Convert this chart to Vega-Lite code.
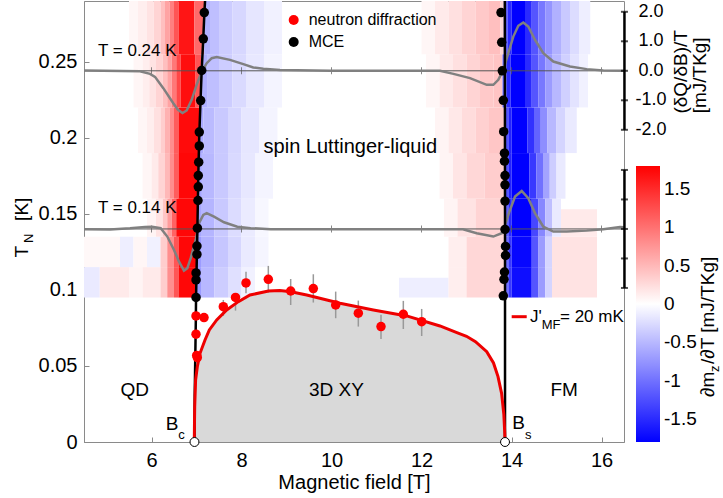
{
"$schema":"https://vega.github.io/schema/vega-lite/v6.json",
"width":540,"height":441,
"autosize":{"type":"none"},
"padding":{"left":84,"top":1,"right":99,"bottom":56},
"background":"white",
"config":{
 "font":"Liberation Sans",
 "view":{"stroke":"#8a8a8a","strokeWidth":1},
 "axis":{"grid":false,"domainColor":"#8a8a8a","tickColor":"#8a8a8a","labelColor":"black","labelFontSize":20,"titleFontSize":20,"titleFontWeight":"normal","titleColor":"black","tickSize":-5,"domainWidth":1}
},
"datasets":{
"heat":[
{"b1":4.5,"b2":4.85,"t1":0.095,"t2":0.115,"v":-0.15},
{"b1":4.85,"b2":5.5,"t1":0.095,"t2":0.115,"v":0.15},
{"b1":5.5,"b2":5.8,"t1":0.095,"t2":0.115,"v":0.08},
{"b1":5.8,"b2":6.2,"t1":0.095,"t2":0.115,"v":0.15},
{"b1":6.2,"b2":6.35,"t1":0.095,"t2":0.115,"v":0.35},
{"b1":6.35,"b2":6.5,"t1":0.095,"t2":0.115,"v":0.8},
{"b1":6.5,"b2":6.6,"t1":0.095,"t2":0.115,"v":1.2},
{"b1":6.6,"b2":6.99,"t1":0.095,"t2":0.115,"v":1.75},
{"b1":6.99,"b2":7.1,"t1":0.095,"t2":0.115,"v":-0.7},
{"b1":7.1,"b2":7.4,"t1":0.095,"t2":0.115,"v":-0.5},
{"b1":7.4,"b2":7.7,"t1":0.095,"t2":0.115,"v":-0.35},
{"b1":7.7,"b2":8.0,"t1":0.095,"t2":0.115,"v":-0.22},
{"b1":8.0,"b2":8.3,"t1":0.095,"t2":0.115,"v":-0.1},
{"b1":11.5,"b2":12.6,"t1":0.095,"t2":0.108,"v":-0.12},
{"b1":12.6,"b2":13.0,"t1":0.095,"t2":0.115,"v":0.12},
{"b1":13.0,"b2":13.84,"t1":0.095,"t2":0.115,"v":0.28},
{"b1":13.84,"b2":13.93,"t1":0.095,"t2":0.115,"v":-1.0},
{"b1":13.93,"b2":14.0,"t1":0.095,"t2":0.115,"v":-1.4},
{"b1":14.0,"b2":14.45,"t1":0.095,"t2":0.115,"v":-1.7},
{"b1":14.45,"b2":14.6,"t1":0.095,"t2":0.115,"v":-1.2},
{"b1":14.6,"b2":14.75,"t1":0.095,"t2":0.115,"v":-0.7},
{"b1":14.75,"b2":14.9,"t1":0.095,"t2":0.115,"v":-0.3},
{"b1":14.9,"b2":15.9,"t1":0.095,"t2":0.115,"v":0.2},
{"b1":4.5,"b2":5.3,"t1":0.115,"t2":0.135,"v":0.05},
{"b1":5.3,"b2":5.6,"t1":0.115,"t2":0.135,"v":-0.12},
{"b1":5.6,"b2":5.9,"t1":0.115,"t2":0.135,"v":0.06},
{"b1":5.9,"b2":6.2,"t1":0.115,"t2":0.135,"v":-0.1},
{"b1":6.2,"b2":6.35,"t1":0.115,"t2":0.135,"v":0.35},
{"b1":6.35,"b2":6.5,"t1":0.115,"t2":0.135,"v":0.8},
{"b1":6.5,"b2":6.6,"t1":0.115,"t2":0.135,"v":1.2},
{"b1":6.6,"b2":6.99,"t1":0.115,"t2":0.135,"v":1.75},
{"b1":6.99,"b2":7.1,"t1":0.115,"t2":0.135,"v":-0.7},
{"b1":7.1,"b2":7.4,"t1":0.115,"t2":0.135,"v":-0.55},
{"b1":7.4,"b2":7.7,"t1":0.115,"t2":0.135,"v":-0.4},
{"b1":7.7,"b2":8.0,"t1":0.115,"t2":0.135,"v":-0.28},
{"b1":8.0,"b2":8.3,"t1":0.115,"t2":0.135,"v":-0.15},
{"b1":8.3,"b2":8.6,"t1":0.115,"t2":0.135,"v":-0.07},
{"b1":12.6,"b2":13.0,"t1":0.115,"t2":0.135,"v":0.12},
{"b1":13.0,"b2":13.84,"t1":0.115,"t2":0.135,"v":0.28},
{"b1":13.84,"b2":13.93,"t1":0.115,"t2":0.135,"v":-1.0},
{"b1":13.93,"b2":14.0,"t1":0.115,"t2":0.135,"v":-1.4},
{"b1":14.0,"b2":14.45,"t1":0.115,"t2":0.135,"v":-1.75},
{"b1":14.45,"b2":14.6,"t1":0.115,"t2":0.135,"v":-1.2},
{"b1":14.6,"b2":14.75,"t1":0.115,"t2":0.135,"v":-0.7},
{"b1":14.75,"b2":14.9,"t1":0.115,"t2":0.135,"v":-0.3},
{"b1":14.9,"b2":15.9,"t1":0.115,"t2":0.135,"v":0.2},
{"b1":5.9,"b2":6.1,"t1":0.135,"t2":0.16,"v":0.08},
{"b1":6.1,"b2":6.25,"t1":0.135,"t2":0.16,"v":0.2},
{"b1":6.25,"b2":6.35,"t1":0.135,"t2":0.16,"v":0.4},
{"b1":6.35,"b2":6.45,"t1":0.135,"t2":0.16,"v":0.7},
{"b1":6.45,"b2":6.55,"t1":0.135,"t2":0.16,"v":1.1},
{"b1":6.55,"b2":7.02,"t1":0.135,"t2":0.16,"v":1.75},
{"b1":7.02,"b2":7.1,"t1":0.135,"t2":0.16,"v":-0.62},
{"b1":7.1,"b2":7.4,"t1":0.135,"t2":0.16,"v":-0.52},
{"b1":7.4,"b2":7.7,"t1":0.135,"t2":0.16,"v":-0.38},
{"b1":7.7,"b2":8.0,"t1":0.135,"t2":0.16,"v":-0.25},
{"b1":8.0,"b2":8.3,"t1":0.135,"t2":0.16,"v":-0.14},
{"b1":8.3,"b2":8.6,"t1":0.135,"t2":0.16,"v":-0.06},
{"b1":12.5,"b2":12.8,"t1":0.135,"t2":0.16,"v":0.08},
{"b1":12.8,"b2":13.2,"t1":0.135,"t2":0.16,"v":0.2},
{"b1":13.2,"b2":13.84,"t1":0.135,"t2":0.16,"v":0.3},
{"b1":13.84,"b2":13.93,"t1":0.135,"t2":0.16,"v":-1.1},
{"b1":13.93,"b2":14.0,"t1":0.135,"t2":0.16,"v":-1.5},
{"b1":14.0,"b2":14.45,"t1":0.135,"t2":0.16,"v":-1.8},
{"b1":14.45,"b2":14.6,"t1":0.135,"t2":0.16,"v":-1.3},
{"b1":14.6,"b2":14.75,"t1":0.135,"t2":0.16,"v":-0.85},
{"b1":14.75,"b2":14.9,"t1":0.135,"t2":0.16,"v":-0.45},
{"b1":14.9,"b2":15.1,"t1":0.135,"t2":0.16,"v":-0.15},
{"b1":15.1,"b2":15.9,"t1":0.135,"t2":0.153,"v":0.15},
{"b1":5.8,"b2":6.0,"t1":0.16,"t2":0.19,"v":0.06},
{"b1":6.0,"b2":6.15,"t1":0.16,"t2":0.19,"v":0.15},
{"b1":6.15,"b2":6.3,"t1":0.16,"t2":0.19,"v":0.3},
{"b1":6.3,"b2":6.4,"t1":0.16,"t2":0.19,"v":0.5},
{"b1":6.4,"b2":6.5,"t1":0.16,"t2":0.19,"v":0.8},
{"b1":6.5,"b2":6.6,"t1":0.16,"t2":0.19,"v":1.15},
{"b1":6.6,"b2":7.04,"t1":0.16,"t2":0.19,"v":1.75},
{"b1":7.04,"b2":7.12,"t1":0.16,"t2":0.19,"v":-0.62},
{"b1":7.12,"b2":7.4,"t1":0.16,"t2":0.19,"v":-0.5},
{"b1":7.4,"b2":7.7,"t1":0.16,"t2":0.19,"v":-0.38},
{"b1":7.7,"b2":8.0,"t1":0.16,"t2":0.19,"v":-0.27},
{"b1":8.0,"b2":8.3,"t1":0.16,"t2":0.19,"v":-0.17},
{"b1":8.3,"b2":8.7,"t1":0.16,"t2":0.19,"v":-0.08},
{"b1":12.4,"b2":12.7,"t1":0.16,"t2":0.19,"v":0.08},
{"b1":12.7,"b2":13.0,"t1":0.16,"t2":0.19,"v":0.18},
{"b1":13.0,"b2":13.4,"t1":0.16,"t2":0.19,"v":0.28},
{"b1":13.4,"b2":13.84,"t1":0.16,"t2":0.19,"v":0.35},
{"b1":13.84,"b2":13.93,"t1":0.16,"t2":0.19,"v":-1.2},
{"b1":13.93,"b2":14.0,"t1":0.16,"t2":0.19,"v":-1.55},
{"b1":14.0,"b2":14.4,"t1":0.16,"t2":0.19,"v":-1.8},
{"b1":14.4,"b2":14.55,"t1":0.16,"t2":0.19,"v":-1.4},
{"b1":14.55,"b2":14.7,"t1":0.16,"t2":0.19,"v":-1.0},
{"b1":14.7,"b2":14.85,"t1":0.16,"t2":0.19,"v":-0.65},
{"b1":14.85,"b2":15.0,"t1":0.16,"t2":0.19,"v":-0.35},
{"b1":15.0,"b2":15.2,"t1":0.16,"t2":0.19,"v":-0.15},
{"b1":5.7,"b2":5.9,"t1":0.19,"t2":0.22,"v":0.06},
{"b1":5.9,"b2":6.05,"t1":0.19,"t2":0.22,"v":0.12},
{"b1":6.05,"b2":6.2,"t1":0.19,"t2":0.22,"v":0.22},
{"b1":6.2,"b2":6.3,"t1":0.19,"t2":0.22,"v":0.35},
{"b1":6.3,"b2":6.4,"t1":0.19,"t2":0.22,"v":0.55},
{"b1":6.4,"b2":6.5,"t1":0.19,"t2":0.22,"v":0.8},
{"b1":6.5,"b2":6.6,"t1":0.19,"t2":0.22,"v":1.15},
{"b1":6.6,"b2":7.06,"t1":0.19,"t2":0.22,"v":1.72},
{"b1":7.06,"b2":7.15,"t1":0.19,"t2":0.22,"v":-0.6},
{"b1":7.15,"b2":7.4,"t1":0.19,"t2":0.22,"v":-0.48},
{"b1":7.4,"b2":7.7,"t1":0.19,"t2":0.22,"v":-0.38},
{"b1":7.7,"b2":8.0,"t1":0.19,"t2":0.22,"v":-0.28},
{"b1":8.0,"b2":8.4,"t1":0.19,"t2":0.22,"v":-0.18},
{"b1":8.4,"b2":8.8,"t1":0.19,"t2":0.22,"v":-0.08},
{"b1":12.3,"b2":12.6,"t1":0.19,"t2":0.22,"v":0.08},
{"b1":12.6,"b2":12.9,"t1":0.19,"t2":0.22,"v":0.16},
{"b1":12.9,"b2":13.2,"t1":0.19,"t2":0.22,"v":0.25},
{"b1":13.2,"b2":13.5,"t1":0.19,"t2":0.22,"v":0.33},
{"b1":13.5,"b2":13.84,"t1":0.19,"t2":0.22,"v":0.4},
{"b1":13.84,"b2":13.93,"t1":0.19,"t2":0.22,"v":-1.2},
{"b1":13.93,"b2":14.0,"t1":0.19,"t2":0.22,"v":-1.55},
{"b1":14.0,"b2":14.35,"t1":0.19,"t2":0.22,"v":-1.8},
{"b1":14.35,"b2":14.5,"t1":0.19,"t2":0.22,"v":-1.45},
{"b1":14.5,"b2":14.65,"t1":0.19,"t2":0.22,"v":-1.1},
{"b1":14.65,"b2":14.8,"t1":0.19,"t2":0.22,"v":-0.8},
{"b1":14.8,"b2":15.0,"t1":0.19,"t2":0.22,"v":-0.5},
{"b1":15.0,"b2":15.2,"t1":0.19,"t2":0.22,"v":-0.3},
{"b1":15.2,"b2":15.45,"t1":0.19,"t2":0.22,"v":-0.15},
{"b1":5.6,"b2":5.8,"t1":0.22,"t2":0.255,"v":0.06},
{"b1":5.8,"b2":5.95,"t1":0.22,"t2":0.255,"v":0.12},
{"b1":5.95,"b2":6.1,"t1":0.22,"t2":0.255,"v":0.2},
{"b1":6.1,"b2":6.25,"t1":0.22,"t2":0.255,"v":0.3},
{"b1":6.25,"b2":6.35,"t1":0.22,"t2":0.255,"v":0.45},
{"b1":6.35,"b2":6.45,"t1":0.22,"t2":0.255,"v":0.65},
{"b1":6.45,"b2":6.55,"t1":0.22,"t2":0.255,"v":0.95},
{"b1":6.55,"b2":6.65,"t1":0.22,"t2":0.255,"v":1.3},
{"b1":6.65,"b2":6.98,"t1":0.22,"t2":0.255,"v":1.7},
{"b1":6.98,"b2":7.11,"t1":0.22,"t2":0.255,"v":1.2},
{"b1":7.11,"b2":7.25,"t1":0.22,"t2":0.255,"v":-0.55},
{"b1":7.25,"b2":7.5,"t1":0.22,"t2":0.255,"v":-0.45},
{"b1":7.5,"b2":7.8,"t1":0.22,"t2":0.255,"v":-0.35},
{"b1":7.8,"b2":8.1,"t1":0.22,"t2":0.255,"v":-0.26},
{"b1":8.1,"b2":8.5,"t1":0.22,"t2":0.255,"v":-0.16},
{"b1":8.5,"b2":8.9,"t1":0.22,"t2":0.255,"v":-0.08},
{"b1":12.1,"b2":12.4,"t1":0.22,"t2":0.255,"v":0.06},
{"b1":12.4,"b2":12.7,"t1":0.22,"t2":0.255,"v":0.15},
{"b1":12.7,"b2":13.0,"t1":0.22,"t2":0.255,"v":0.22},
{"b1":13.0,"b2":13.3,"t1":0.22,"t2":0.255,"v":0.3},
{"b1":13.3,"b2":13.6,"t1":0.22,"t2":0.255,"v":0.38},
{"b1":13.6,"b2":13.8,"t1":0.22,"t2":0.255,"v":0.42},
{"b1":13.8,"b2":13.9,"t1":0.22,"t2":0.255,"v":-1.1},
{"b1":13.9,"b2":13.98,"t1":0.22,"t2":0.255,"v":-1.5},
{"b1":13.98,"b2":14.3,"t1":0.22,"t2":0.255,"v":-1.8},
{"b1":14.3,"b2":14.45,"t1":0.22,"t2":0.255,"v":-1.5},
{"b1":14.45,"b2":14.6,"t1":0.22,"t2":0.255,"v":-1.2},
{"b1":14.6,"b2":14.75,"t1":0.22,"t2":0.255,"v":-0.95},
{"b1":14.75,"b2":14.9,"t1":0.22,"t2":0.255,"v":-0.7},
{"b1":14.9,"b2":15.1,"t1":0.22,"t2":0.255,"v":-0.5},
{"b1":15.1,"b2":15.3,"t1":0.22,"t2":0.255,"v":-0.33},
{"b1":15.3,"b2":15.5,"t1":0.22,"t2":0.255,"v":-0.2},
{"b1":15.5,"b2":15.7,"t1":0.22,"t2":0.255,"v":-0.1},
{"b1":5.5,"b2":5.7,"t1":0.255,"t2":0.29,"v":0.06},
{"b1":5.7,"b2":5.9,"t1":0.255,"t2":0.29,"v":0.12},
{"b1":5.9,"b2":6.05,"t1":0.255,"t2":0.29,"v":0.2},
{"b1":6.05,"b2":6.2,"t1":0.255,"t2":0.29,"v":0.3},
{"b1":6.2,"b2":6.3,"t1":0.255,"t2":0.29,"v":0.45},
{"b1":6.3,"b2":6.4,"t1":0.255,"t2":0.29,"v":0.65},
{"b1":6.4,"b2":6.5,"t1":0.255,"t2":0.29,"v":0.9},
{"b1":6.5,"b2":6.6,"t1":0.255,"t2":0.29,"v":1.2},
{"b1":6.6,"b2":6.95,"t1":0.255,"t2":0.29,"v":1.65},
{"b1":6.95,"b2":7.17,"t1":0.255,"t2":0.29,"v":1.05},
{"b1":7.17,"b2":7.3,"t1":0.255,"t2":0.29,"v":-0.55},
{"b1":7.3,"b2":7.5,"t1":0.255,"t2":0.29,"v":-0.45},
{"b1":7.5,"b2":7.8,"t1":0.255,"t2":0.29,"v":-0.35},
{"b1":7.8,"b2":8.1,"t1":0.255,"t2":0.29,"v":-0.28},
{"b1":8.1,"b2":8.5,"t1":0.255,"t2":0.29,"v":-0.18},
{"b1":8.5,"b2":8.9,"t1":0.255,"t2":0.29,"v":-0.1},
{"b1":12.0,"b2":12.3,"t1":0.255,"t2":0.29,"v":0.06},
{"b1":12.3,"b2":12.6,"t1":0.255,"t2":0.29,"v":0.15},
{"b1":12.6,"b2":12.9,"t1":0.255,"t2":0.29,"v":0.22},
{"b1":12.9,"b2":13.2,"t1":0.255,"t2":0.29,"v":0.3},
{"b1":13.2,"b2":13.5,"t1":0.255,"t2":0.29,"v":0.38},
{"b1":13.5,"b2":13.75,"t1":0.255,"t2":0.29,"v":0.45},
{"b1":13.75,"b2":13.83,"t1":0.255,"t2":0.29,"v":0.3},
{"b1":13.83,"b2":13.92,"t1":0.255,"t2":0.29,"v":-1.1},
{"b1":13.92,"b2":14.0,"t1":0.255,"t2":0.29,"v":-1.5},
{"b1":14.0,"b2":14.3,"t1":0.255,"t2":0.29,"v":-1.8},
{"b1":14.3,"b2":14.45,"t1":0.255,"t2":0.29,"v":-1.5},
{"b1":14.45,"b2":14.6,"t1":0.255,"t2":0.29,"v":-1.2},
{"b1":14.6,"b2":14.75,"t1":0.255,"t2":0.29,"v":-0.95},
{"b1":14.75,"b2":14.9,"t1":0.255,"t2":0.29,"v":-0.75},
{"b1":14.9,"b2":15.1,"t1":0.255,"t2":0.29,"v":-0.55},
{"b1":15.1,"b2":15.3,"t1":0.255,"t2":0.29,"v":-0.38},
{"b1":15.3,"b2":15.5,"t1":0.255,"t2":0.29,"v":-0.25},
{"b1":15.5,"b2":15.75,"t1":0.255,"t2":0.29,"v":-0.12}
],
"curves":[
{"c":"u","b":4.5,"t":0.2443},{"c":"u","b":5.744,"t":0.2438},{"c":"u","b":5.967,"t":0.2421},{"c":"u","b":6.078,"t":0.2401},{"c":"u","b":6.262,"t":0.2327},{"c":"u","b":6.484,"t":0.2228},{"c":"u","b":6.589,"t":0.2184},{"c":"u","b":6.689,"t":0.2163},{"c":"u","b":6.782,"t":0.218},{"c":"u","b":6.893,"t":0.225},{"c":"u","b":7.004,"t":0.2349},{"c":"u","b":7.116,"t":0.2436},{"c":"u","b":7.227,"t":0.2491},{"c":"u","b":7.338,"t":0.2524},{"c":"u","b":7.449,"t":0.2531},{"c":"u","b":7.744,"t":0.2513},{"c":"u","b":8.04,"t":0.2485},{"c":"u","b":8.262,"t":0.2463},{"c":"u","b":8.484,"t":0.2454},{"c":"u","b":8.856,"t":0.2447},{"c":"u","b":9.967,"t":0.2441},{"c":"u","b":12.41,"t":0.2441},{"c":"u","b":12.71,"t":0.2421},{"c":"u","b":13.078,"t":0.2393},{"c":"u","b":13.449,"t":0.2349},{"c":"u","b":13.596,"t":0.2349},{"c":"u","b":13.707,"t":0.2382},{"c":"u","b":13.818,"t":0.2447},{"c":"u","b":13.929,"t":0.2557},{"c":"u","b":14.04,"t":0.2666},{"c":"u","b":14.151,"t":0.2737},{"c":"u","b":14.262,"t":0.2759},{"c":"u","b":14.373,"t":0.2732},{"c":"u","b":14.522,"t":0.2645},{"c":"u","b":14.707,"t":0.2557},{"c":"u","b":14.929,"t":0.2502},{"c":"u","b":15.3,"t":0.2469},{"c":"u","b":15.671,"t":0.2452},{"c":"u","b":16.04,"t":0.2443},{"c":"u","b":16.5,"t":0.2441},
{"c":"l","b":4.5,"t":0.1399},{"c":"l","b":5.078,"t":0.1398},{"c":"l","b":5.522,"t":0.1405},{"c":"l","b":5.856,"t":0.1414},{"c":"l","b":6.011,"t":0.1416},{"c":"l","b":6.204,"t":0.1406},{"c":"l","b":6.351,"t":0.1351},{"c":"l","b":6.5,"t":0.1263},{"c":"l","b":6.611,"t":0.1186},{"c":"l","b":6.722,"t":0.1127},{"c":"l","b":6.796,"t":0.1143},{"c":"l","b":6.871,"t":0.1209},{"c":"l","b":6.982,"t":0.1329},{"c":"l","b":7.056,"t":0.1439},{"c":"l","b":7.151,"t":0.1493},{"c":"l","b":7.227,"t":0.1505},{"c":"l","b":7.389,"t":0.1482},{"c":"l","b":7.611,"t":0.1445},{"c":"l","b":7.907,"t":0.1416},{"c":"l","b":8.204,"t":0.1406},{"c":"l","b":8.649,"t":0.1399},{"c":"l","b":12.92,"t":0.1399},{"c":"l","b":13.227,"t":0.1373},{"c":"l","b":13.596,"t":0.1351},{"c":"l","b":13.782,"t":0.1373},{"c":"l","b":13.856,"t":0.1428},{"c":"l","b":13.967,"t":0.1526},{"c":"l","b":14.078,"t":0.1614},{"c":"l","b":14.227,"t":0.1651},{"c":"l","b":14.373,"t":0.1603},{"c":"l","b":14.522,"t":0.1505},{"c":"l","b":14.707,"t":0.1416},{"c":"l","b":14.929,"t":0.1384},{"c":"l","b":15.227,"t":0.1384},{"c":"l","b":15.671,"t":0.139},{"c":"l","b":16.04,"t":0.1399},{"c":"l","b":16.411,"t":0.1413},{"c":"l","b":16.5,"t":0.1412}
],
"blk":[
{"c":"c","b":6.955,"t":0},{"c":"c","b":6.96,"t":0.03},{"c":"c","b":6.975,"t":0.06},{"c":"c","b":6.985,"t":0.08},{"c":"c","b":6.99,"t":0.095},{"c":"c","b":7.02,"t":0.14},{"c":"c","b":7.04,"t":0.175},{"c":"c","b":7.06,"t":0.2},{"c":"c","b":7.09,"t":0.225},{"c":"c","b":7.115,"t":0.244},{"c":"c","b":7.15,"t":0.265},{"c":"c","b":7.175,"t":0.282},{"c":"c","b":7.19,"t":0.29},
{"c":"s","b":13.856,"t":0},{"c":"s","b":13.856,"t":0.15},{"c":"s","b":13.852,"t":0.29}
],
"jmf":[
{"b":6.951,"t":0},{"b":6.955,"t":0.012},{"b":6.96,"t":0.0232},{"b":6.98,"t":0.0408},{"b":7.018,"t":0.0495},{"b":7.078,"t":0.0583},{"b":7.189,"t":0.0671},{"b":7.285,"t":0.0737},{"b":7.449,"t":0.0803},{"b":7.671,"t":0.0868},{"b":7.93,"t":0.0923},{"b":8.189,"t":0.0967},{"b":8.6,"t":0.0993},{"b":8.85,"t":0.0996},{"b":9.1,"t":0.0988},{"b":9.449,"t":0.0967},{"b":10.189,"t":0.0912},{"b":10.93,"t":0.0868},{"b":11.67,"t":0.0829},{"b":12.41,"t":0.0763},{"b":12.8,"t":0.0718},{"b":13.0,"t":0.0695},{"b":13.2,"t":0.066},{"b":13.45,"t":0.0594},{"b":13.6,"t":0.052},{"b":13.7,"t":0.043},{"b":13.78,"t":0.032},{"b":13.83,"t":0.018},{"b":13.85,"t":0.006},{"b":13.856,"t":0}
],
"pts":[
{"src":"neutron diffraction","b":6.989,"t":0.0829},
{"src":"neutron diffraction","b":7.167,"t":0.0818},
{"src":"neutron diffraction","b":6.989,"t":0.0709},
{"src":"neutron diffraction","b":7.004,"t":0.0569},
{"src":"neutron diffraction","b":7.018,"t":0.0555},
{"src":"neutron diffraction","b":7.596,"t":0.089,"lo":0.0829,"hi":0.0934},
{"src":"neutron diffraction","b":7.867,"t":0.0951,"lo":0.0864,"hi":0.0978},
{"src":"neutron diffraction","b":8.1,"t":0.1046,"lo":0.0978,"hi":0.112},
{"src":"neutron diffraction","b":8.596,"t":0.107,"lo":0.0982,"hi":0.1158},
{"src":"neutron diffraction","b":9.093,"t":0.0993,"lo":0.0901,"hi":0.1072},
{"src":"neutron diffraction","b":9.596,"t":0.1009,"lo":0.0917,"hi":0.1103},
{"src":"neutron diffraction","b":10.093,"t":0.0901,"lo":0.0814,"hi":0.0989},
{"src":"neutron diffraction","b":10.596,"t":0.0847,"lo":0.0759,"hi":0.093},
{"src":"neutron diffraction","b":11.1,"t":0.0759,"lo":0.0678,"hi":0.0836},
{"src":"neutron diffraction","b":11.596,"t":0.084,"lo":0.0743,"hi":0.0928},
{"src":"neutron diffraction","b":12.004,"t":0.0791,"lo":0.0697,"hi":0.0875},
{"src":"MCE","b":7.173,"t":0.2824},{"src":"MCE","b":7.151,"t":0.2651},{"src":"MCE","b":7.116,"t":0.2443},{"src":"MCE","b":7.093,"t":0.2245},{"src":"MCE","b":7.062,"t":0.2038},{"src":"MCE","b":7.062,"t":0.1947},{"src":"MCE","b":7.049,"t":0.184},{"src":"MCE","b":7.04,"t":0.1752},{"src":"MCE","b":7.04,"t":0.1678},{"src":"MCE","b":7.033,"t":0.1588},{"src":"MCE","b":7.02,"t":0.1406},{"src":"MCE","b":7.01,"t":0.1289},{"src":"MCE","b":7.01,"t":0.1234},{"src":"MCE","b":6.99,"t":0.1112},{"src":"MCE","b":6.99,"t":0.1066},{"src":"MCE","b":6.99,"t":0.0951},
{"src":"MCE","b":13.767,"t":0.2824},{"src":"MCE","b":13.782,"t":0.2628},{"src":"MCE","b":13.796,"t":0.2441},{"src":"MCE","b":13.818,"t":0.2247},{"src":"MCE","b":13.826,"t":0.2041},{"src":"MCE","b":13.844,"t":0.1899},{"src":"MCE","b":13.844,"t":0.1847},{"src":"MCE","b":13.856,"t":0.1752},{"src":"MCE","b":13.856,"t":0.1691},{"src":"MCE","b":13.856,"t":0.1584},{"src":"MCE","b":13.856,"t":0.1398},{"src":"MCE","b":13.867,"t":0.1286},{"src":"MCE","b":13.867,"t":0.1227},{"src":"MCE","b":13.844,"t":0.1118},{"src":"MCE","b":13.833,"t":0.107},{"src":"MCE","b":13.818,"t":0.0961}
],
"open":[{"b":6.955,"t":0},{"b":13.856,"t":0}],
"zl":[{"t":0.2441},{"t":0.1401}],
"zt":[{"b":6,"t":0.2441},{"b":8,"t":0.2441},{"b":10,"t":0.2441},{"b":12,"t":0.2441},{"b":14,"t":0.2441},{"b":16,"t":0.2441},{"b":6,"t":0.1401},{"b":8,"t":0.1401},{"b":10,"t":0.1401},{"b":12,"t":0.1401},{"b":14,"t":0.1401},{"b":16,"t":0.1401}],
"br":[{"b":16.51,"t1":0.2829,"t2":0.2053},{"b":16.51,"t1":0.1789,"t2":0.1013}],
"brt":[{"b":16.51,"t":0.2829},{"b":16.51,"t":0.2635},{"b":16.51,"t":0.2441},{"b":16.51,"t":0.2247},{"b":16.51,"t":0.2053},{"b":16.51,"t":0.1789},{"b":16.51,"t":0.1595},{"b":16.51,"t":0.1401},{"b":16.51,"t":0.1207},{"b":16.51,"t":0.1013}],
"rl":[{"b":17.1,"t":0.2829,"txt":"2.0"},{"b":17.1,"t":0.2635,"txt":"1.0"},{"b":17.1,"t":0.2441,"txt":"0.0"},{"b":17.1,"t":0.2247,"txt":"-1.0"},{"b":17.1,"t":0.2053,"txt":"-2.0"}],
"tc":[{"b":5.626,"t":0.0305,"txt":"QD"},{"b":10.111,"t":0.0303,"txt":"3D XY"},{"b":15.171,"t":0.0303,"txt":"FM"}],
"tc20":[{"b":10.418,"t":0.1901,"txt":"spin Luttinger-liquid"}],
"tl17":[{"b":4.811,"t":0.2539,"txt":"T = 0.24 K"},{"b":4.811,"t":0.1503,"txt":"T = 0.14 K"},{"b":14.411,"t":0.0788,"txt":"J'"},{"b":15.078,"t":0.0788,"txt":"= 20 mK"}],
"tl19":[{"b":6.314,"t":0.0079,"txt":"B"},{"b":14.018,"t":0.0083,"txt":"B"}],
"tsub":[{"b":6.596,"t":0.002,"txt":"c"},{"b":14.3,"t":0.002,"txt":"s"},{"b":14.671,"t":0.0743,"txt":"MF"}],
"jleg":[{"b1":14.004,"b2":14.338,"t":0.0824}],
"rotl":[{"b":3.2556,"t":0.1214,"txt":"T"},{"b":3.2556,"t":0.1454,"txt":"[K]"},{"b":18.498,"t":0.0296,"txt":"∂m"},{"b":18.498,"t":0.0513,"txt":"/∂T [mJ/TKg]"}],
"rotc":[{"b":17.898,"t":0.2434,"txt":"(δQ/δB)/T"},{"b":18.32,"t":0.2411,"txt":"[mJ/TKg]"}],
"rots":[{"b":3.3667,"t":0.1309,"txt":"N"},{"b":18.611,"t":0.0461,"txt":"z"}]
},
"layer":[
{"data":{"name":"heat"},"mark":{"type":"rect","strokeWidth":0},
 "encoding":{
  "x":{"field":"b1","type":"quantitative","scale":{"domain":[4.5,16.5],"nice":false,"zero":false},"axis":{"title":"Magnetic field [T]","values":[6,8,10,12,14,16],"labelPadding":13,"titlePadding":2}},
  "x2":{"field":"b2"},
  "y":{"field":"t1","type":"quantitative","scale":{"domain":[0,0.29],"nice":false,"zero":false},"axis":{"title":"","values":[0,0.05,0.1,0.15,0.2,0.25],"format":".2~f","labelPadding":12}},
  "y2":{"field":"t2"},
  "color":{"field":"v","type":"quantitative","scale":{"domain":[-1.8,0,1.8],"range":["#0000ff","#ffffff","#ff0000"],"interpolate":"rgb"},
   "legend":{"orient":"none","legendX":552,"legendY":165,"direction":"vertical","gradientLength":276,"gradientThickness":24,"title":null,"padding":0,"labelFontSize":19,"labelColor":"black","values":[-1.5,-1,-0.5,0,0.5,1,1.5],"labelExpr":"''+datum.value","gradientStrokeWidth":0,"labelOffset":4}}
 }},
{"data":{"name":"zl"},"mark":{"type":"rule","color":"#555555","strokeWidth":1},
 "encoding":{"y":{"field":"t","type":"quantitative","scale":{"domain":[0,0.29],"nice":false,"zero":false}}}},
{"data":{"name":"zt"},"mark":{"type":"tick","orient":"vertical","color":"#555555","size":7,"thickness":1},
 "encoding":{"x":{"field":"b","type":"quantitative","scale":{"domain":[4.5,16.5],"nice":false,"zero":false}},
  "y":{"field":"t","type":"quantitative","scale":{"domain":[0,0.29],"nice":false,"zero":false}}}},
{"data":{"name":"jmf"},"mark":{"type":"area","color":"#d9d9d9"},
 "encoding":{"x":{"field":"b","type":"quantitative","scale":{"domain":[4.5,16.5],"nice":false,"zero":false}},
  "y":{"field":"t","type":"quantitative","scale":{"domain":[0,0.29],"nice":false,"zero":false}}}},
{"data":{"name":"pts"},"transform":[{"filter":"isValid(datum.lo)"}],"mark":{"type":"rule","color":"#999999","strokeWidth":1.5},
 "encoding":{"x":{"field":"b","type":"quantitative","scale":{"domain":[4.5,16.5],"nice":false,"zero":false}},
  "y":{"field":"lo","type":"quantitative","scale":{"domain":[0,0.29],"nice":false,"zero":false}},"y2":{"field":"hi"}}},
{"data":{"name":"curves"},"mark":{"type":"line","color":"#808080","strokeWidth":2.5},
 "encoding":{"x":{"field":"b","type":"quantitative","scale":{"domain":[4.5,16.5],"nice":false,"zero":false}},
  "y":{"field":"t","type":"quantitative","scale":{"domain":[0,0.29],"nice":false,"zero":false}},"detail":{"field":"c"}}},
{"data":{"name":"blk"},"mark":{"type":"line","color":"black","strokeWidth":2.5},
 "encoding":{"x":{"field":"b","type":"quantitative","scale":{"domain":[4.5,16.5],"nice":false,"zero":false}},
  "y":{"field":"t","type":"quantitative","scale":{"domain":[0,0.29],"nice":false,"zero":false}},"detail":{"field":"c"},"order":{"field":"t","type":"quantitative"}}},
{"data":{"name":"jmf"},"mark":{"type":"line","color":"#ee0000","strokeWidth":3},
 "encoding":{"x":{"field":"b","type":"quantitative","scale":{"domain":[4.5,16.5],"nice":false,"zero":false}},
  "y":{"field":"t","type":"quantitative","scale":{"domain":[0,0.29],"nice":false,"zero":false}}}},
{"data":{"name":"pts"},"mark":{"type":"point","shape":"circle","filled":true,"size":90,"opacity":1,"strokeWidth":0},
 "encoding":{"x":{"field":"b","type":"quantitative","scale":{"domain":[4.5,16.5],"nice":false,"zero":false}},
  "y":{"field":"t","type":"quantitative","scale":{"domain":[0,0.29],"nice":false,"zero":false}},
  "color":{"field":"src","type":"nominal","scale":{"domain":["neutron diffraction","MCE"],"range":["#ff0000","#000000"]},
   "legend":{"orient":"none","legendX":201.7,"legendY":11,"title":null,"padding":0,"labelFontSize":16,"labelColor":"black","symbolType":"circle","symbolSize":100,"symbolStrokeWidth":0,"labelOffset":7,"rowPadding":6}}}},
{"data":{"name":"open"},"mark":{"type":"point","shape":"circle","size":80,"fill":"white","stroke":"black","strokeWidth":1,"opacity":1,"filled":false,"fillOpacity":1},
 "encoding":{"x":{"field":"b","type":"quantitative","scale":{"domain":[4.5,16.5],"nice":false,"zero":false}},
  "y":{"field":"t","type":"quantitative","scale":{"domain":[0,0.29],"nice":false,"zero":false}}}},
{"data":{"name":"jleg"},"mark":{"type":"rule","color":"#ee0000","strokeWidth":3},
 "encoding":{"x":{"field":"b1","type":"quantitative","scale":{"domain":[4.5,16.5],"nice":false,"zero":false}},"x2":{"field":"b2"},
  "y":{"field":"t","type":"quantitative","scale":{"domain":[0,0.29],"nice":false,"zero":false}}}},
{"data":{"name":"br"},"mark":{"type":"rule","color":"black","strokeWidth":2.5},
 "encoding":{"x":{"field":"b","type":"quantitative","scale":{"domain":[4.5,16.5],"nice":false,"zero":false}},
  "y":{"field":"t1","type":"quantitative","scale":{"domain":[0,0.29],"nice":false,"zero":false}},"y2":{"field":"t2"}}},
{"data":{"name":"brt"},"mark":{"type":"tick","orient":"horizontal","color":"black","size":7,"thickness":2},
 "encoding":{"x":{"field":"b","type":"quantitative","scale":{"domain":[4.5,16.5],"nice":false,"zero":false}},
  "y":{"field":"t","type":"quantitative","scale":{"domain":[0,0.29],"nice":false,"zero":false}}}},
{"data":{"name":"rl"},"mark":{"type":"text","fontSize":18,"align":"center","baseline":"middle","color":"black"},
 "encoding":{"x":{"field":"b","type":"quantitative","scale":{"domain":[4.5,16.5],"nice":false,"zero":false}},
  "y":{"field":"t","type":"quantitative","scale":{"domain":[0,0.29],"nice":false,"zero":false}},"text":{"field":"txt"}}},
{"data":{"name":"tc"},"mark":{"type":"text","fontSize":19,"align":"center","baseline":"alphabetic","color":"black"},
 "encoding":{"x":{"field":"b","type":"quantitative","scale":{"domain":[4.5,16.5],"nice":false,"zero":false}},
  "y":{"field":"t","type":"quantitative","scale":{"domain":[0,0.29],"nice":false,"zero":false}},"text":{"field":"txt"}}},
{"data":{"name":"tc20"},"mark":{"type":"text","fontSize":20,"align":"center","baseline":"alphabetic","color":"black"},
 "encoding":{"x":{"field":"b","type":"quantitative","scale":{"domain":[4.5,16.5],"nice":false,"zero":false}},
  "y":{"field":"t","type":"quantitative","scale":{"domain":[0,0.29],"nice":false,"zero":false}},"text":{"field":"txt"}}},
{"data":{"name":"tl17"},"mark":{"type":"text","fontSize":17,"align":"left","baseline":"alphabetic","color":"black"},
 "encoding":{"x":{"field":"b","type":"quantitative","scale":{"domain":[4.5,16.5],"nice":false,"zero":false}},
  "y":{"field":"t","type":"quantitative","scale":{"domain":[0,0.29],"nice":false,"zero":false}},"text":{"field":"txt"}}},
{"data":{"name":"tl19"},"mark":{"type":"text","fontSize":19,"align":"left","baseline":"alphabetic","color":"black"},
 "encoding":{"x":{"field":"b","type":"quantitative","scale":{"domain":[4.5,16.5],"nice":false,"zero":false}},
  "y":{"field":"t","type":"quantitative","scale":{"domain":[0,0.29],"nice":false,"zero":false}},"text":{"field":"txt"}}},
{"data":{"name":"tsub"},"mark":{"type":"text","fontSize":13,"align":"left","baseline":"alphabetic","color":"black"},
 "encoding":{"x":{"field":"b","type":"quantitative","scale":{"domain":[4.5,16.5],"nice":false,"zero":false}},
  "y":{"field":"t","type":"quantitative","scale":{"domain":[0,0.29],"nice":false,"zero":false}},"text":{"field":"txt"}}},
{"data":{"name":"rotl"},"mark":{"type":"text","fontSize":19,"align":"left","baseline":"alphabetic","angle":270,"color":"black"},
 "encoding":{"x":{"field":"b","type":"quantitative","scale":{"domain":[4.5,16.5],"nice":false,"zero":false}},
  "y":{"field":"t","type":"quantitative","scale":{"domain":[0,0.29],"nice":false,"zero":false}},"text":{"field":"txt"}}},
{"data":{"name":"rotc"},"mark":{"type":"text","fontSize":19,"align":"center","baseline":"alphabetic","angle":270,"color":"black"},
 "encoding":{"x":{"field":"b","type":"quantitative","scale":{"domain":[4.5,16.5],"nice":false,"zero":false}},
  "y":{"field":"t","type":"quantitative","scale":{"domain":[0,0.29],"nice":false,"zero":false}},"text":{"field":"txt"}}},
{"data":{"name":"rots"},"mark":{"type":"text","fontSize":13,"align":"left","baseline":"alphabetic","angle":270,"color":"black"},
 "encoding":{"x":{"field":"b","type":"quantitative","scale":{"domain":[4.5,16.5],"nice":false,"zero":false}},
  "y":{"field":"t","type":"quantitative","scale":{"domain":[0,0.29],"nice":false,"zero":false}},"text":{"field":"txt"}}}
],
"resolve":{"scale":{"color":"independent"}}
}
